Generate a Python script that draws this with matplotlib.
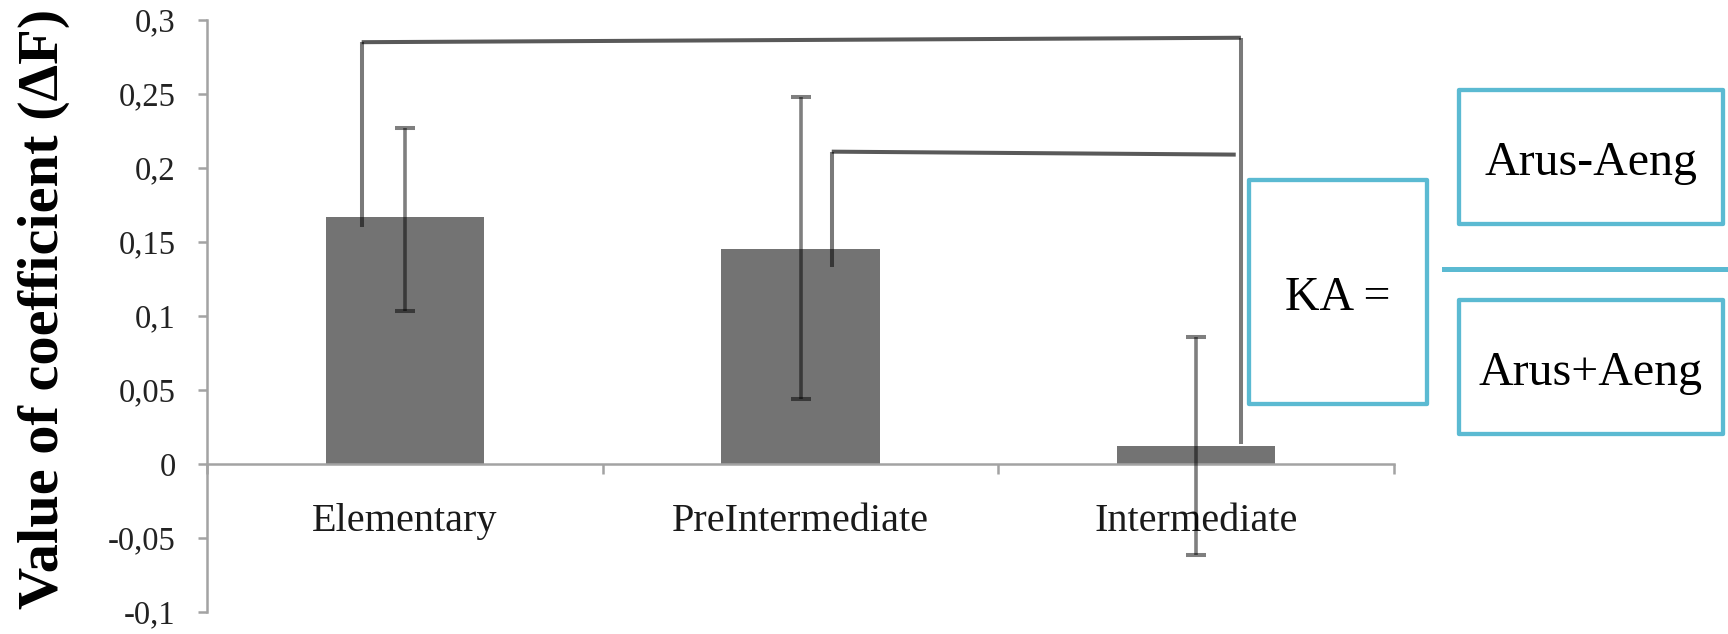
import matplotlib
matplotlib.use('Agg')
import matplotlib.pyplot as plt
from matplotlib.patches import Rectangle
from matplotlib.lines import Line2D

plt.rcParams['font.family'] = ['Liberation Serif', 'DejaVu Serif']

# data
categories = ['Elementary', 'PreIntermediate', 'Intermediate']
values = [0.167, 0.145, 0.012]
err_low = [0.064, 0.101, 0.074]
err_high = [0.060, 0.103, 0.074]
yticks = [-0.1, -0.05, 0, 0.05, 0.1, 0.15, 0.2, 0.25, 0.3]
ytick_labels = ['-0,1', '-0,05', '0', '0,05', '0,1', '0,15', '0,2', '0,25', '0,3']
# significance brackets: (x, y) corner points in data units
bracket_outer_x = [-0.109, -0.109, 2.113, 2.113]
bracket_outer_y = [0.160, 0.285, 0.288, 0.0135]
bracket_inner_x = [1.079, 1.079, 2.100]
bracket_inner_y = [0.133, 0.211, 0.209]

W, H = 1728, 634
fig = plt.figure(figsize=(W / 100, H / 100), dpi=100)
ax = fig.add_axes([207 / W, 22.3 / H, 1187 / W, 591.7 / H])

x = list(range(len(categories)))
ax.bar(x, values, width=0.4, color='#737373', zorder=2)
eb = ax.errorbar(x, values, yerr=[err_low, err_high], fmt='none',
                 ecolor=(0, 0, 0, 0.5), elinewidth=2.6, capsize=7.5,
                 capthick=2.9, zorder=3)
for cap in eb[1]:
    cap.set_color((0, 0, 0, 0.85))

# brackets (vertical legs lighter, horizontal runs darker)
for xs, ys in [(bracket_outer_x, bracket_outer_y), (bracket_inner_x, bracket_inner_y)]:
    for i in range(len(xs) - 1):
        horiz = ys[i] != ys[i + 1] and xs[i] != xs[i + 1]
        a = 0.65 if horiz else 0.52
        ax.plot(xs[i:i + 2], ys[i:i + 2], color=(0, 0, 0, a), lw=2.9,
                solid_capstyle='butt', zorder=4)

ax.set_xlim(-0.5, 2.5)
ax.set_ylim(-0.1, 0.3)

axis_gray = '#a3a3a3'
for s in ['top', 'right']:
    ax.spines[s].set_visible(False)
ax.spines['bottom'].set_position(('data', 0))
for s in ['left', 'bottom']:
    ax.spines[s].set_color(axis_gray)
    ax.spines[s].set_linewidth(1.8)

ax.set_yticks(yticks)
ax.set_yticklabels(ytick_labels)
ax.tick_params(axis='y', direction='out', length=6.5, width=1.8, color=axis_gray,
               pad=16, labelsize=23.5, labelcolor='#222222')

ax.set_xticks([-0.5, 0.5, 1.5, 2.5])
ax.set_xticklabels([])
ax.tick_params(axis='x', which='major', direction='out', length=7, width=1.8, color=axis_gray)
ax.set_xticks(x, minor=True)
ax.set_xticklabels(categories, minor=True)
ax.tick_params(axis='x', which='minor', length=0, pad=28, labelsize=29, labelcolor='#1a1a1a')

fig.text(44 / W, 1 - 309 / H, 'Value of coefficient (ΔF)', rotation=90,
         ha='center', va='center', fontsize=42, fontweight='bold')

# formula boxes on the right
box_color = '#5bbad2'


def add_box(x0, y0, x1, y1):
    fig.add_artist(Rectangle((x0 / W, 1 - y1 / H), (x1 - x0) / W, (y1 - y0) / H,
                             transform=fig.transFigure, fill=False,
                             edgecolor=box_color, linewidth=3.1, joinstyle='round'))


add_box(1249, 180, 1427, 404)
add_box(1459, 89.5, 1722.5, 223.7)
add_box(1459, 299.5, 1722.5, 433.7)
fig.add_artist(Line2D([1444 / W, 1.0], [1 - 269 / H, 1 - 269 / H],
                      transform=fig.transFigure, color=box_color, linewidth=3.6))

fig.text(1338 / W, 1 - 310 / H, 'KA =', ha='center', va='baseline', fontsize=34.5)
fig.text(1590.7 / W, 1 - 175 / H, 'Arus-Aeng', ha='center', va='baseline', fontsize=34.5)
fig.text(1590.7 / W, 1 - 385 / H, 'Arus+Aeng', ha='center', va='baseline', fontsize=34.5)

fig.savefig('out.png', dpi=100)
